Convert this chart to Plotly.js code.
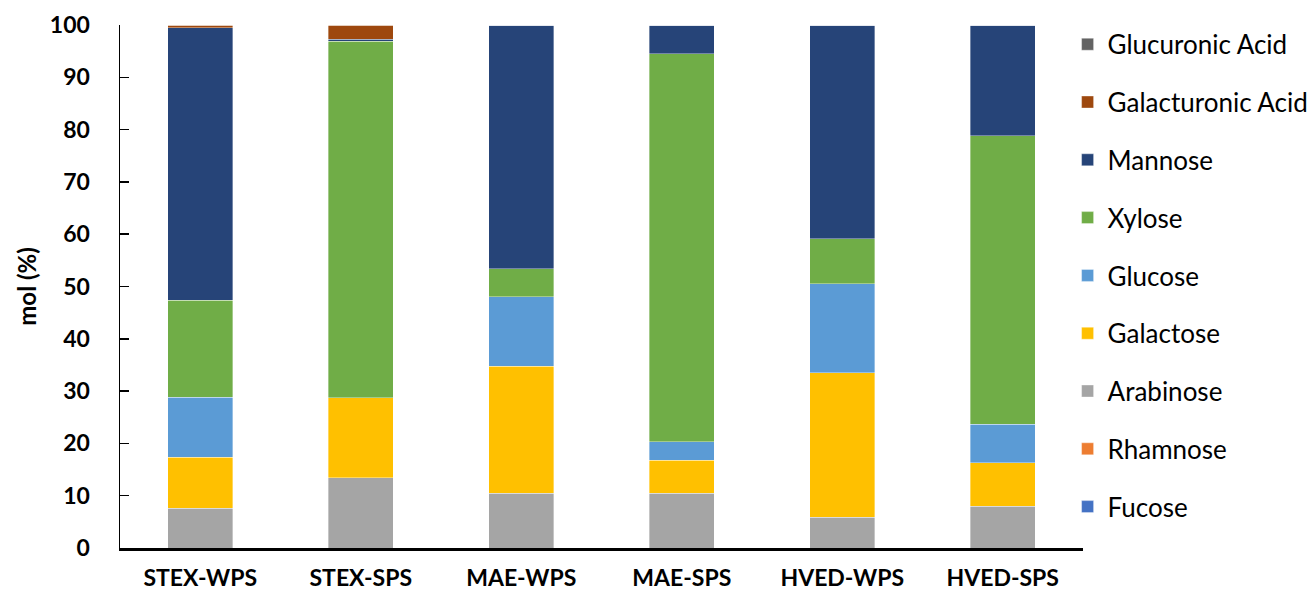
<!DOCTYPE html>
<html>
<head>
<meta charset="utf-8">
<script src="https://cdn.plot.ly/plotly-3.0.1.min.js"></script>
<style>html,body{margin:0;padding:0;background:#fff;}#chart{width:1313px;height:598px;}</style>
</head>
<body>
<div id="chart"></div>
<script>
const categories = ["STEX-WPS", "STEX-SPS", "MAE-WPS", "MAE-SPS", "HVED-WPS", "HVED-SPS"];
const fucose          = [0, 0, 0, 0, 0, 0];
const rhamnose        = [0, 0, 0, 0, 0, 0];
const arabinose       = [7.6, 13.4, 10.5, 10.5, 5.9, 8.0];
const galactose       = [9.8, 15.3, 24.3, 6.3, 27.6, 8.3];
const glucose         = [11.4, 0, 13.2, 3.5, 17.0, 7.4];
const xylose          = [18.6, 68.2, 5.4, 74.2, 8.6, 55.1];
const mannose         = [52.1, 0.4, 46.6, 5.5, 40.9, 21.2];
const galacturonic    = [0.5, 2.7, 0, 0, 0, 0];
const glucuronic      = [0, 0, 0, 0, 0, 0];
const yTicks = [0, 10, 20, 30, 40, 50, 60, 70, 80, 90, 100];

const series = [
  {name: "Fucose", y: fucose, color: "#4472C4"},
  {name: "Rhamnose", y: rhamnose, color: "#ED7D31"},
  {name: "Arabinose", y: arabinose, color: "#A5A5A5"},
  {name: "Galactose", y: galactose, color: "#FFC000"},
  {name: "Glucose", y: glucose, color: "#5B9BD5"},
  {name: "Xylose", y: xylose, color: "#70AD47"},
  {name: "Mannose", y: mannose, color: "#264478"},
  {name: "Galacturonic Acid", y: galacturonic, color: "#9E480E"},
  {name: "Glucuronic Acid", y: glucuronic, color: "#636363"}
];

const traces = series.map((s, i) => ({
  type: "bar",
  name: s.name,
  x: categories,
  y: s.y,
  legendgroup: s.name,
  legendrank: series.length - i,
  marker: {color: s.color, line: {width: 0.6, color: "rgba(255,255,255,0.6)"}},
  hoverinfo: "x+y+name"
}));

const boldFont = (size) => ({size: size, family: "Lato, sans-serif", weight: "bold", color: "#000"});

const layout = {
  width: 1313,
  height: 598,
  margin: {l: 120, r: 230, t: 25, b: 50, autoexpand: false},
  paper_bgcolor: "#fff",
  plot_bgcolor: "#fff",
  barmode: "stack",
  bargap: 0.595,
  font: {family: "Lato, sans-serif", color: "#000"},
  xaxis: {
    type: "category",
    showline: true,
    linecolor: "#000",
    linewidth: 2.5,
    ticks: "",
    showgrid: false,
    zeroline: false,
    ticklabelstandoff: 8,
    tickfont: boldFont(23)
  },
  yaxis: {
    range: [0, 100],
    tickvals: yTicks,
    ticktext: yTicks.map(String),
    showline: true,
    linecolor: "#000",
    linewidth: 1.5,
    ticks: "inside",
    ticklen: 9,
    tickwidth: 1.5,
    tickcolor: "#000",
    showgrid: false,
    zeroline: false,
    ticklabelstandoff: 24,
    tickfont: boldFont(23),
    title: {text: "mol (%)", font: boldFont(24), standoff: 6}
  },
  legend: {
    x: 0.984, xanchor: "left", xref: "paper",
    y: 1.008, yanchor: "top",
    traceorder: "grouped",
    tracegroupgap: 21,
    maxheight: 598,
    font: {size: 26, family: "Lato, sans-serif", color: "#000"},
    itemwidth: 30
  },
  showlegend: true
};

Plotly.newPlot("chart", traces, layout, {displayModeBar: false, staticPlot: true});
</script>
</body>
</html>
